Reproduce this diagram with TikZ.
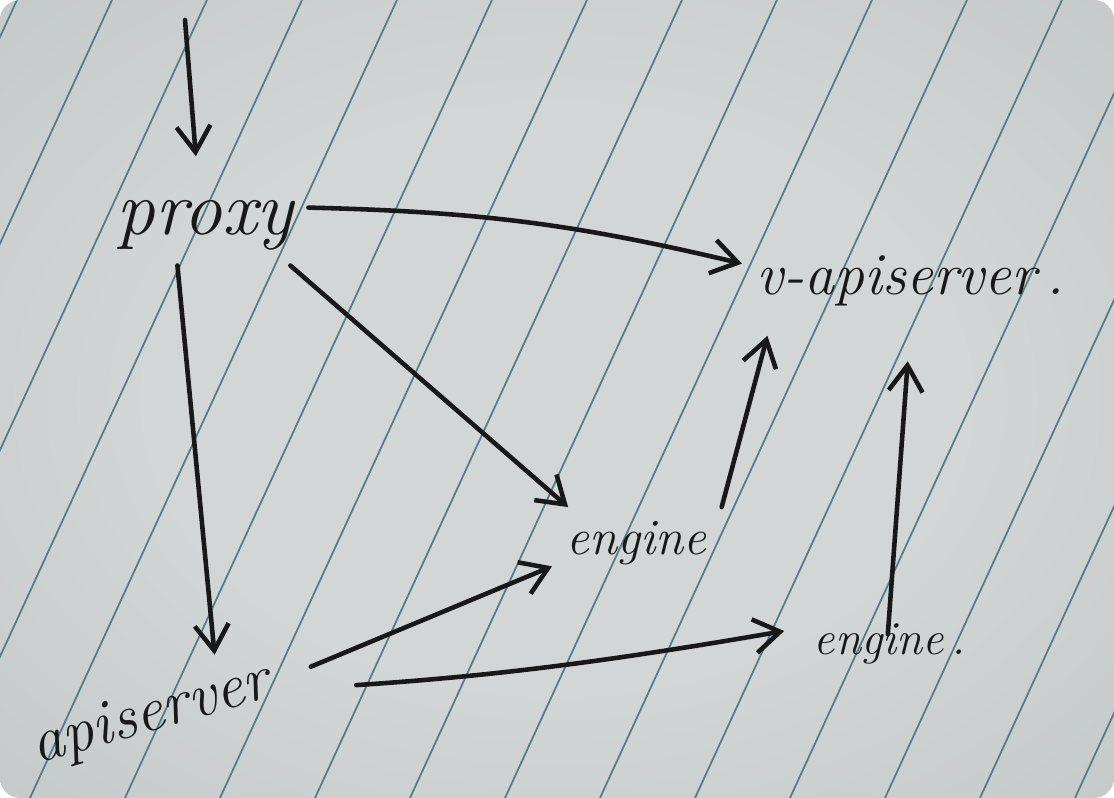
\documentclass[tikz,border=0pt]{standalone}
\usetikzlibrary{arrows.meta}

\definecolor{paperdark}{RGB}{166,171,172}
\definecolor{papermid}{RGB}{190,195,196}
\definecolor{paperlight}{RGB}{210,214,214}
\definecolor{paperrule}{RGB}{84,124,134}
\definecolor{inkblack}{RGB}{24,24,24}

\pgfdeclareradialshading{paperglow}{\pgfpoint{0bp}{0bp}}{%
  color(0bp)=(paperlight); color(18bp)=(paperlight);
  color(45bp)=(papermid); color(72bp)=(paperdark)}

\begin{document}
\begin{tikzpicture}
  \tikzset{
    ink arrow/.style={
      draw=inkblack,
      line width=1.3pt,
      line cap=round,
      -{Straight Barb[length=2.6mm,width=3.4mm,line width=1.3pt]},
    },
    ink label/.style={
      text=inkblack,
      font=\itshape\fontsize{#1}{#1}\selectfont,
      inner sep=4pt,
    },
    ink label/.default=16,
  }
  \newcommand{\paperedge}{
    (0,0) rectangle (11.14,7.98)
  }

  \useasboundingbox \paperedge;
  \fill[white] \paperedge;
  \shade[shading=paperglow, rounded corners=0.2cm] \paperedge;
  \begin{scope}
    \clip[rounded corners=0.2cm] \paperedge;
    \foreach \k in {-1,...,15} {
      \draw[paperrule, line width=0.5pt] (0.17+0.95*\k,7.98) -- (0.17+0.95*\k-3.67,0); % pauta
    }
  \end{scope}

  % rotulos
  \node[ink label=22, anchor=base west] (proxy) at (1.02,5.63) {proxy};
  \node[ink label=17, anchor=base west] (vapi) at (7.42,5.03) {v-apiserver\hspace{3pt}.};
  \node[ink label=14.5, anchor=base west] (eng1) at (5.52,2.43) {engine};
  \node[ink label=13.5, anchor=base west] (eng2) at (7.99,1.43) {engine\hspace{2pt}.};
  \node[ink label=18, anchor=base, rotate=16] (api) at (1.55,0.68) {apiserver};

  % setas
  \coordinate (entry) at (1.85,7.78);
  \draw[ink arrow, shorten >=0.3cm] (entry) -- (proxy.100);
  \draw[ink arrow] (proxy.10) to[bend left=6] (vapi.174);
  \draw[ink arrow] (proxy.-25) -- (eng1.152);
  \draw[ink arrow] (proxy.-125) -- (api.28);
  \draw[ink arrow, shorten <=0.3cm] (api.east) -- (eng1.195);
  \draw[ink arrow, shorten <=0.7cm, shorten >=0.15cm] (api.-5) to[bend right=3] (eng2.170);
  \draw[ink arrow, shorten >=0.15cm] (eng1.north east) -- (vapi.-164);
  \draw[ink arrow, shorten <=-0.25cm, shorten >=0.4cm] (eng2.north) -- (vapi.south);
\end{tikzpicture}
\end{document}
